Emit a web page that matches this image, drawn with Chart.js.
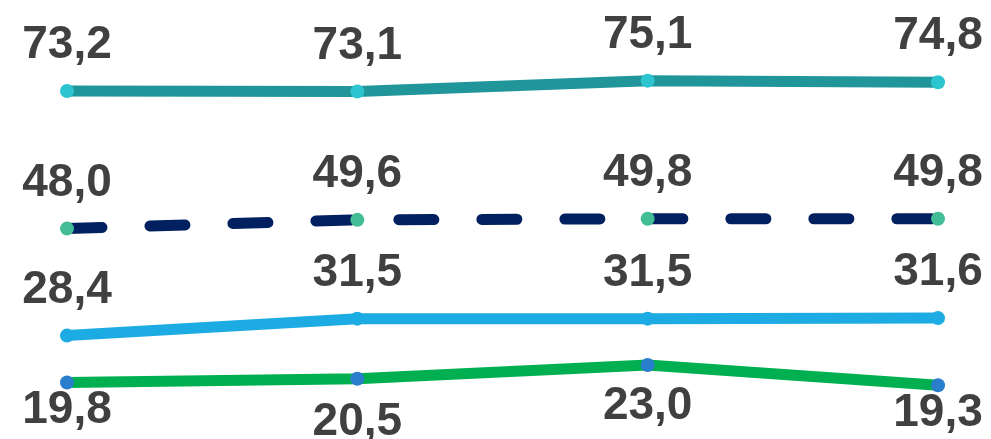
<!DOCTYPE html>
<html>
<head>
<meta charset="utf-8">
<script src="https://cdn.jsdelivr.net/npm/chart.js@4/dist/chart.umd.min.js"></script>
<style>
  html, body { margin: 0; padding: 0; background: #ffffff; }
  #wrap { width: 991px; height: 439px; position: relative; }
</style>
</head>
<body>
<div id="wrap"><canvas id="chart"></canvas></div>
<script>
const categories = ['1', '2', '3', '4'];
const seriesTop = [73.2, 73.1, 75.1, 74.8];
const seriesDashed = [48.0, 49.6, 49.8, 49.8];
const seriesBlue = [28.4, 31.5, 31.5, 31.6];
const seriesGreen = [19.8, 20.5, 23.0, 19.3];

// label placement: gap above point, or top of text below point
const labelBelowGap = [7, 23, 21, 8];

function fmt(v) {
  return v.toFixed(1).replace('.', ',');
}

const labelPlugin = {
  id: 'valueLabels',
  afterDatasetsDraw(chart) {
    const ctx = chart.ctx;
    ctx.save();
    ctx.font = 'bold 46px "Liberation Sans", Arial, sans-serif';
    ctx.fillStyle = '#404040';
    ctx.textAlign = 'center';
    ctx.textBaseline = 'alphabetic';
    chart.data.datasets.forEach((ds, i) => {
      const meta = chart.getDatasetMeta(i);
      meta.data.forEach((pt, j) => {
        const txt = fmt(ds.data[j]);
        let y;
        if (ds.labelBelow) {
          y = pt.y + labelBelowGap[j] + 33;
        } else {
          y = pt.y - 33;
        }
        ctx.fillText(txt, pt.x, y);
      });
    });
    ctx.restore();
  }
};

new Chart(document.getElementById('chart'), {
  type: 'line',
  data: {
    labels: categories,
    datasets: [
      {
        data: seriesTop,
        borderColor: '#20959A',
        backgroundColor: '#2BC4CF',
        pointBackgroundColor: '#2BC4CF',
        borderWidth: 11,
        pointRadius: 7,
        pointBorderWidth: 0,
        clip: false
      },
      {
        data: seriesDashed,
        borderColor: '#002060',
        backgroundColor: '#43BD96',
        pointBackgroundColor: '#43BD96',
        borderWidth: 11,
        borderDash: [35, 48],
        borderCapStyle: 'round',
        pointRadius: 7,
        pointBorderWidth: 0,
        clip: false
      },
      {
        data: seriesBlue,
        borderColor: '#1CABE2',
        backgroundColor: '#1CABE2',
        pointBackgroundColor: '#1CABE2',
        borderWidth: 11,
        pointRadius: 7,
        pointBorderWidth: 0,
        clip: false
      },
      {
        data: seriesGreen,
        borderColor: '#00B050',
        backgroundColor: '#2A7FCC',
        pointBackgroundColor: '#2A7FCC',
        borderWidth: 11,
        pointRadius: 7,
        pointBorderWidth: 0,
        labelBelow: true,
        clip: false
      }
    ]
  },
  options: {
    responsive: true,
    maintainAspectRatio: false,
    animation: false,
    layout: { padding: { left: 67, right: 53, top: 0, bottom: 0 } },
    plugins: {
      legend: { display: false },
      tooltip: { enabled: false }
    },
    elements: { line: { tension: 0 } },
    scales: {
      x: { display: false, offset: false },
      y: { display: false, min: 10.74, max: 88.59 }
    }
  },
  plugins: [labelPlugin]
});
</script>
</body>
</html>
